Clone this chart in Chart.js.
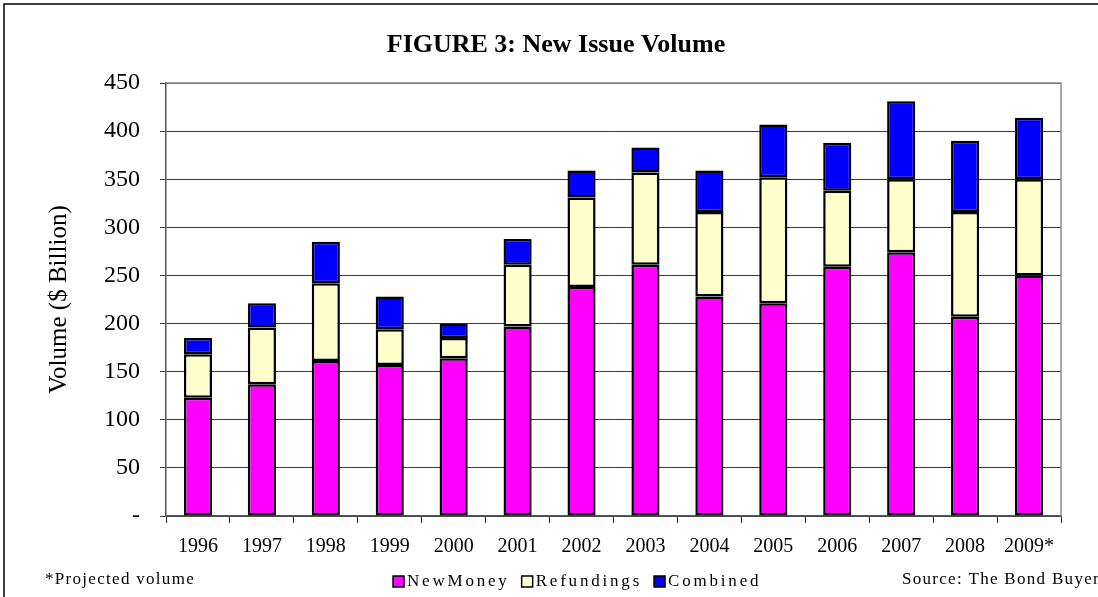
<!DOCTYPE html>
<html lang="en">
<head>
    <meta charset="UTF-8">
    <title>FIGURE 3: New Issue Volume</title>
    <script src="https://cdn.jsdelivr.net/npm/chart.js"></script>
    <style>
        html, body { margin: 0; padding: 0; background: #fff; }
        #wrap { position: relative; width: 1098px; height: 597px; }
    </style>
</head>
<body>
    <div id="wrap"><canvas id="volume-chart" width="1098" height="597"></canvas></div>

    <script>
        // values in $ billion
        const years = ['1996', '1997', '1998', '1999', '2000', '2001', '2002',
                       '2003', '2004', '2005', '2006', '2007', '2008', '2009*'];
        const newMoney    = [123, 137, 161, 157, 164, 197, 238, 261, 228, 221, 259, 274, 207, 250];
        const refundings  = [45, 59, 81, 37, 21, 64, 93, 96, 88, 131, 79, 76, 109, 100];
        const combined    = [17, 25, 43, 34, 15, 27, 28, 26, 43, 55, 50, 81, 74, 64];
        const yTicks = [0, 50, 100, 150, 200, 250, 300, 350, 400, 450];

        const SERIF = '"Liberation Serif", "Times New Roman", serif';

        // title, frame, legend and footnotes drawn straight on the canvas
        const decorations = {
            id: 'decorations',
            beforeDraw(chart) {
                const ctx = chart.ctx;
                ctx.save();
                ctx.strokeStyle = '#000';
                ctx.lineWidth = 1.5;
                ctx.beginPath();
                ctx.moveTo(4, 597);
                ctx.lineTo(4, 4);
                ctx.lineTo(1098, 4);
                ctx.stroke();
                ctx.restore();
            },
            afterDraw(chart) {
                const ctx = chart.ctx;
                const area = chart.chartArea;
                ctx.save();

                // grey frame on top and right of the plot
                ctx.strokeStyle = '#8c8c8c';
                ctx.lineWidth = 1.5;
                ctx.beginPath();
                ctx.moveTo(area.left, area.top);
                ctx.lineTo(area.right, area.top);
                ctx.lineTo(area.right, area.bottom);
                ctx.stroke();

                ctx.fillStyle = '#000';
                ctx.font = 'bold 26px ' + SERIF;
                ctx.textAlign = 'center';
                ctx.textBaseline = 'middle';
                ctx.fillText('FIGURE 3: New Issue Volume', 556, 45);

                ctx.font = '17px ' + SERIF;
                ctx.letterSpacing = '1.3px';
                ctx.textAlign = 'left';
                ctx.fillText('*Projected volume', 45, 580);
                ctx.textAlign = 'right';
                ctx.fillText('Source: The Bond Buyer', 1100, 580);

                // legend
                ctx.letterSpacing = '2.8px';
                ctx.textAlign = 'left';
                let x = 393;
                chart.data.datasets.forEach(ds => {
                    ctx.fillStyle = ds.backgroundColor;
                    ctx.fillRect(x, 576, 11, 11);
                    ctx.strokeStyle = '#000';
                    ctx.lineWidth = 1.5;
                    ctx.strokeRect(x, 576, 11, 11);
                    ctx.fillStyle = '#000';
                    ctx.fillText(ds.label, x + 14, 582);
                    x += 14 + ctx.measureText(ds.label).width + 12;
                });
                ctx.restore();
            }
        };

        const ctx = document.getElementById('volume-chart');
        new Chart(ctx, {
            type: 'bar',
            data: {
                labels: years,
                datasets: [
                    { label: 'NewMoney', data: newMoney, backgroundColor: '#ff00ff' },
                    { label: 'Refundings', data: refundings, backgroundColor: '#ffffcc' },
                    { label: 'Combined', data: combined, backgroundColor: '#0000ff' }
                ]
            },
            options: {
                responsive: false,
                animation: false,
                layout: { padding: { top: 83, right: 37, bottom: 0, left: 0 } },
                datasets: {
                    bar: {
                        borderColor: '#000',
                        borderWidth: 2.5,
                        borderSkipped: false,
                        categoryPercentage: 1.0,
                        barPercentage: 0.44
                    }
                },
                plugins: {
                    legend: { display: false },
                    title: { display: false },
                    tooltip: { enabled: false }
                },
                scales: {
                    x: {
                        stacked: true,
                        afterFit: scale => { scale.height = 81; },
                        grid: {
                            display: true,
                            drawOnChartArea: false,
                            drawTicks: true,
                            tickLength: 7,
                            color: '#333',
                            offset: true
                        },
                        border: { display: true, color: '#555', width: 1.5 },
                        ticks: {
                            color: '#000',
                            padding: 12,
                            maxRotation: 0,
                            font: { family: SERIF, size: 20 }
                        }
                    },
                    y: {
                        stacked: true,
                        min: 0,
                        max: 450,
                        afterFit: scale => { scale.width = 166; },
                        afterBuildTicks: scale => {
                            scale.ticks = yTicks.map(v => ({ value: v }));
                        },
                        grid: {
                            color: '#3a3a3a',
                            lineWidth: 1,
                            tickLength: 6,
                            drawTicks: true
                        },
                        border: { display: true, color: '#555', width: 1.5 },
                        ticks: {
                            color: '#000',
                            padding: 20,
                            font: { family: SERIF, size: 24 },
                            callback: v => v === 0 ? '-' : v
                        },
                        title: {
                            display: true,
                            text: 'Volume ($ Billion)',
                            color: '#000',
                            font: { family: SERIF, size: 25 },
                            padding: { top: 44, bottom: 0 }
                        }
                    }
                }
            },
            plugins: [decorations]
        });
    </script>
</body>
</html>
